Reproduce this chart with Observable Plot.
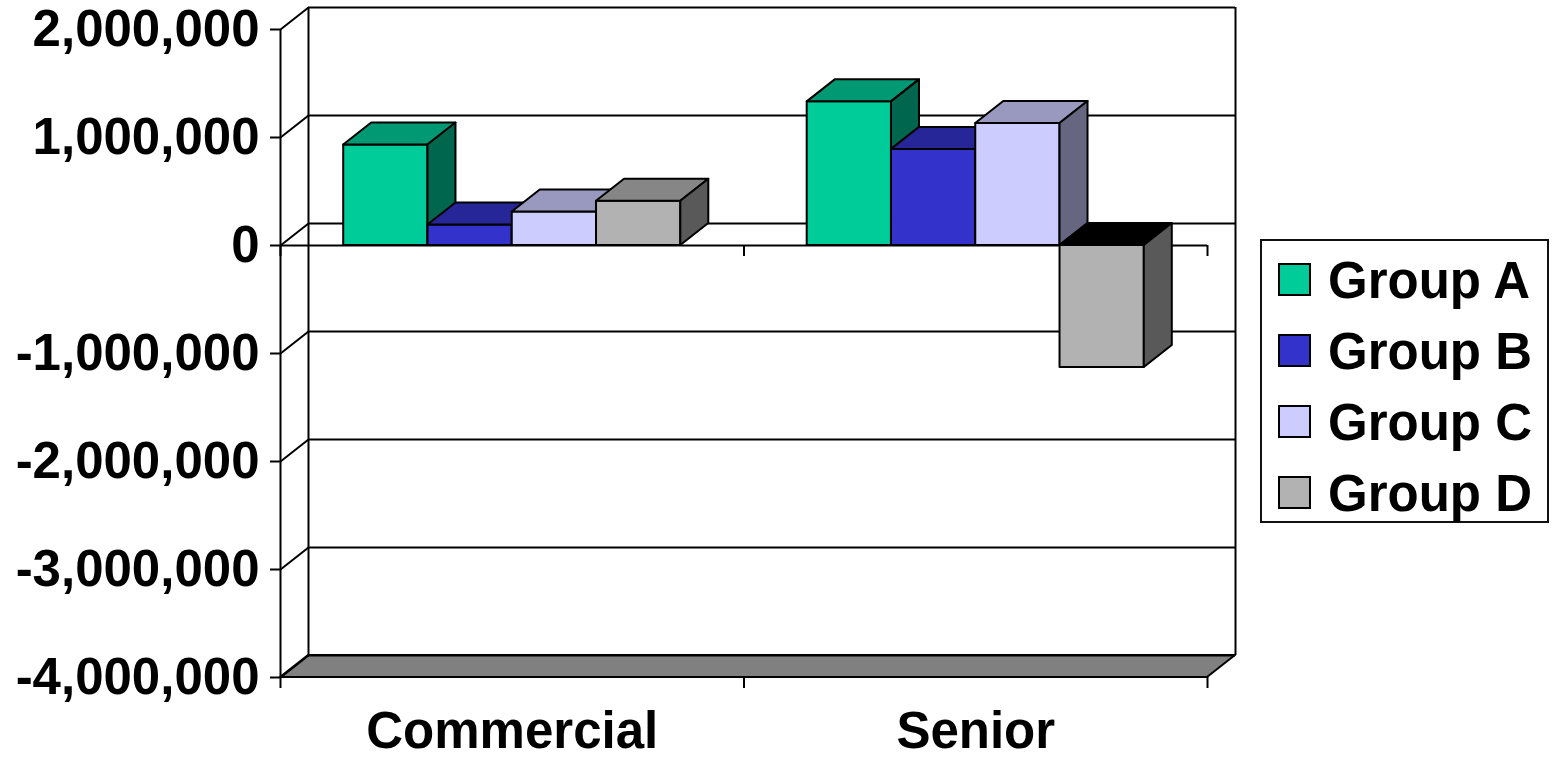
<!DOCTYPE html>
<html><head><meta charset="utf-8">
<script src="https://cdn.jsdelivr.net/npm/d3@7"></script>
<script src="https://cdn.jsdelivr.net/npm/@observablehq/plot@0.6"></script>
<style>
html,body{margin:0;padding:0;background:#fff;}
#wrap{position:relative;width:1553px;height:760px;overflow:hidden;font-family:"Liberation Sans",Arial,sans-serif;font-weight:bold;}
#legend{position:absolute;left:1260px;top:239px;width:289px;height:284px;box-sizing:border-box;border:2px solid #111;background:#fff;}
.sw{position:absolute;left:16px;width:33px;height:33px;box-sizing:border-box;border:2px solid #000;}
.lt{position:absolute;left:66px;font-size:51px;line-height:51px;white-space:nowrap;color:#000;}
</style>
</head><body>
<div id="wrap"><div id="chart"></div><div id="legend"></div></div>
<script>
// ---- data ----
const categories = ["Commercial", "Senior"];
const groups = ["Group A", "Group B", "Group C", "Group D"];
const commercial = [930000, 190000, 310000, 410000];
const senior = [1330000, 890000, 1130000, -1130000];
const yTicks = [-4000000, -3000000, -2000000, -1000000, 0, 1000000, 2000000];
const frontColors = ["#00cc99", "#3333cc", "#ccccff", "#b2b2b2"];
const topColors = ["#009973", "#262699", "#9999bf", "#868686"];
const sideColors = ["#00664d", "#1a1a66", "#666680", "#595959"];

// ---- layout ----
const W = 1553, H = 760, ML = 280, MR = 346, MT = 29, MB = 83;
const pxX = (W - ML - MR) / 2;          // px per category unit
const pxY = (H - MT - MB) / 6000000;    // px per value unit
const DX = 28 / pxX, DY = 22 / pxY;     // 3D depth offset in data units
const TICK = 11 / pxY;
const barW = 1 / (groups.length + 1.5);
const start = 0.75 * barW;

const values = [commercial, senior];
const faces = [];
let id = 0;
categories.forEach((cat, c) => {
  values[c].forEach((v, g) => {
    const x0 = c + start + g * barW, x1 = x0 + barW;
    const lo = Math.min(0, v), hi = Math.max(0, v);
    const k = id++;
    const fF = frontColors[g], fT = v < 0 ? "#000000" : topColors[g], fS = sideColors[g];
    faces.push(
      {face: k + "f", x: x0, y1: lo, y2: hi, fill: fF},
      {face: k + "f", x: x1, y1: lo, y2: hi, fill: fF},
      {face: k + "t", x: x0, y1: hi, y2: hi, fill: fT},
      {face: k + "t", x: x0 + DX, y1: hi, y2: hi + DY, fill: fT},
      {face: k + "t", x: x1, y1: hi, y2: hi + DY, fill: fT},
      {face: k + "t", x: x1 + DX, y1: hi + DY, y2: hi + DY, fill: fT},
      {face: k + "s", x: x1, y1: lo, y2: hi, fill: fS},
      {face: k + "s", x: x1 + DX, y1: lo + DY, y2: hi + DY, fill: fS}
    );
  });
});

const yMin = yTicks[0], yMax = yTicks[yTicks.length - 1];
const fmt = v => v.toLocaleString("en-US");

const chart = Plot.plot({
  width: W, height: H,
  marginLeft: ML, marginRight: MR, marginTop: MT, marginBottom: MB,
  x: {domain: [0, 2]},
  y: {domain: [yMin, yMax]},
  color: {type: "identity"},
  style: {fontFamily: "'Liberation Sans', Arial, sans-serif", fontSize: "51px", fontWeight: "bold", background: "#fff", overflow: "visible"},
  marks: [
    // floor
    Plot.areaX([0, 1], {y: t => yMin + t * DY, x1: t => t * DX, x2: t => 2 + t * DX, fill: "#808080", stroke: "#000", strokeWidth: 2}),
    // back wall gridlines
    Plot.ruleY(yTicks, {y: d => d + DY, x1: DX, x2: 2 + DX, stroke: "#000", strokeWidth: 2}),
    Plot.ruleX([DX, 2 + DX], {y1: yMin + DY, y2: yMax + DY, stroke: "#000", strokeWidth: 2}),
    // side wall diagonals
    Plot.link(yTicks, {x1: 0, y1: d => d, x2: DX, y2: d => d + DY, stroke: "#000", strokeWidth: 2}),
    // front axis line and zero line
    Plot.ruleX([0], {y1: yMin, y2: yMax, stroke: "#000", strokeWidth: 2}),
    Plot.ruleY([0], {x1: 0, x2: 2, stroke: "#000", strokeWidth: 2}),
    Plot.ruleX([0, 1, 2], {y1: 0, y2: -TICK, stroke: "#000", strokeWidth: 2}),
    Plot.ruleX([0, 1, 2], {y1: yMin, y2: yMin - TICK, stroke: "#000", strokeWidth: 2}),
    // bars
    Plot.areaY(faces, {x: "x", y1: "y1", y2: "y2", z: "face", fill: "fill", stroke: "#000", strokeWidth: 2, curve: "linear"}),
    // axes
    Plot.axisY({ticks: yTicks, tickSize: 10, tickPadding: 11, tickFormat: fmt, label: null, strokeWidth: 2}),
    Plot.axisX({ticks: [0.5, 1.5], tickSize: 0, tickPadding: 34, tickFormat: v => categories[Math.floor(v)], label: null})
  ]
});
document.getElementById("chart").appendChild(chart);

// legend
const lg = document.getElementById("legend");
groups.forEach((g, i) => {
  const s = document.createElement("div");
  s.className = "sw"; s.style.top = (22 + 71 * i) + "px"; s.style.background = frontColors[i];
  const t = document.createElement("div");
  t.className = "lt"; t.style.top = (14 + 71 * i) + "px"; t.textContent = g;
  lg.appendChild(s); lg.appendChild(t);
});
</script>
</body></html>
